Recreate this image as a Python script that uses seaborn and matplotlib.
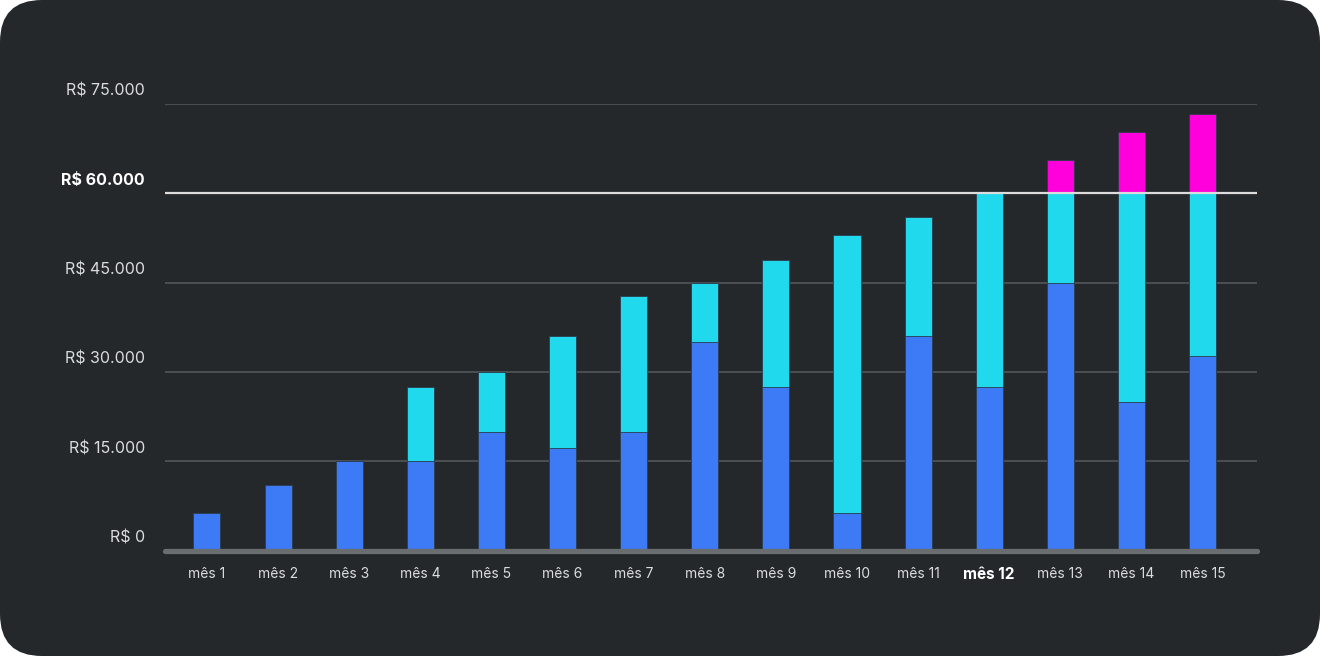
import matplotlib.pyplot as plt
import numpy as np
import pandas as pd
import seaborn as sns
from matplotlib.patches import FancyBboxPatch
from matplotlib.transforms import ScaledTranslation, blended_transform_factory

bgDark = "#24282a"
myBlue = "#3d7af5"
myCyan = "#20d9ec"
myMagenta = "#ff00dd"
gridGray = "#4f5355"
axisGray = "#6a6d6f"
textGray = "#dadcdd"

meses = [f"mês {i}" for i in range(1, 16)]
base = [6300, 11100, 15000, 15000, 20000, 17200, 20000, 35000, 27500, 6300,
        36000, 27500, 45000, 25000, 32600]
meio = [0, 0, 0, 12500, 10000, 18800, 22800, 10000, 21300, 46700,
        20000, 32500, 15000, 35000, 27400]
extra = [0, 0, 0, 0, 0, 0, 0, 0, 0, 0, 0, 0, 5500, 10200, 13300]
yticks = [0, 15000, 30000, 45000, 60000, 75000]
meta = 60000
mes_destaque = "mês 12"

df = pd.DataFrame({"mes": meses, "base": base, "meio": meio, "extra": extra})
df["ate_meio"] = df["base"] + df["meio"]
df["total"] = df["ate_meio"] + df["extra"]

sns.set_theme(style="white")
plt.rcParams["font.family"] = ["Inter", "DejaVu Sans"]

fig = plt.figure(figsize=(13.2, 6.56), dpi=100)
fig.patch.set_facecolor("white")
fig.patches.append(
    FancyBboxPatch(
        (0, 0), 13.2, 6.56,
        boxstyle="round,pad=0,rounding_size=0.42",
        transform=fig.dpi_scale_trans,
        facecolor=bgDark, edgecolor="none", zorder=-10,
    )
)

ax = fig.add_axes((0.125, 1 - 550.7 / 656, 0.827, 447 / 656))
ax.patch.set_visible(False)
for s in ax.spines.values():
    s.set_visible(False)

# grid lines behind bars
for t in yticks[1:]:
    if t != meta:
        ax.axhline(t, color=gridGray, lw=1.3, zorder=0)

# overlapping bars: total first, then lower segments
for col, color in [("total", myMagenta), ("ate_meio", myCyan), ("base", myBlue)]:
    sns.barplot(data=df, x="mes", y=col, color=color, width=0.38,
                saturation=1, edgecolor="#2b3b4a", linewidth=0.6, ax=ax, zorder=2)

ax.axhline(meta, color="#dcdcdc", lw=1.6, zorder=3)
ax.axhline(0, color=axisGray, lw=3.8, zorder=4, clip_on=False)

ax.set_xlim(-0.59, 14.76)
ax.set_ylim(0, 75000)
ax.set_xlabel("")
ax.set_ylabel("")
ax.set_yticks([])
ax.tick_params(axis="x", length=0, pad=12, labelsize=10, colors=textGray)
for lab in ax.get_xticklabels():
    if lab.get_text() == mes_destaque:
        lab.set_fontweight("bold")
        lab.set_fontsize(11)
        lab.set_color("white")

# y labels sit a bit above their line
trans = blended_transform_factory(ax.transAxes, ax.transData) + ScaledTranslation(
    -0.2, 0.08, fig.dpi_scale_trans
)
for t in yticks:
    txt = "R$ " + f"{t:,}".replace(",", ".")
    bold = t == meta
    ax.text(0, t, txt, transform=trans, ha="right", va="baseline",
            fontsize=11.5, color="white" if bold else textGray,
            fontweight="bold" if bold else "normal", clip_on=False)

fig.savefig("out.png", dpi=100, facecolor=fig.get_facecolor())
